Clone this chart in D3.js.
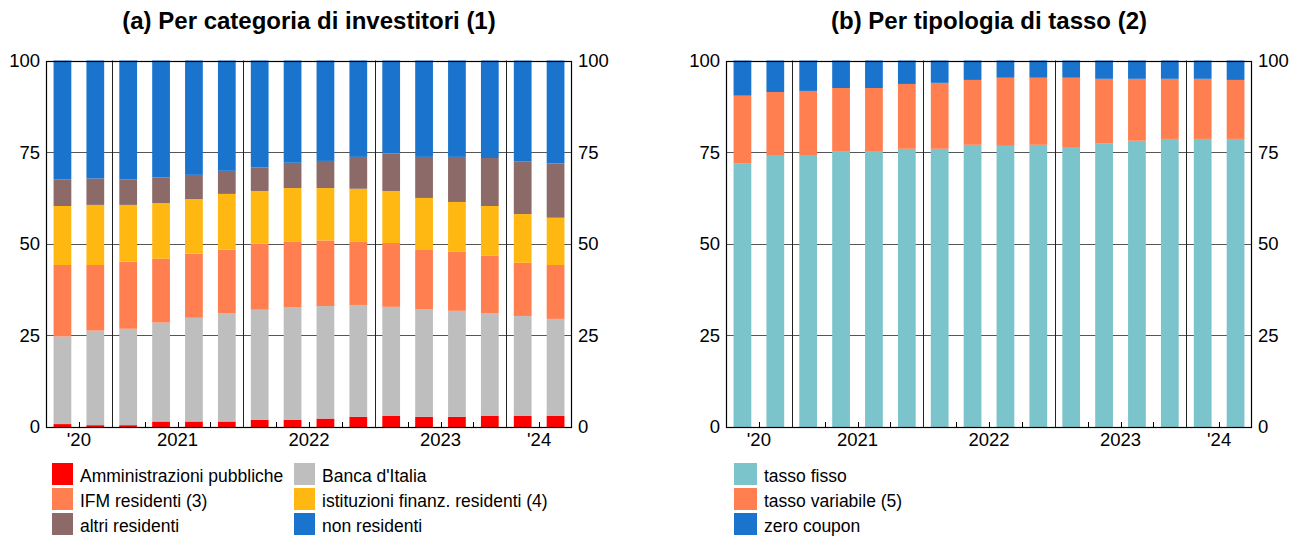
<!DOCTYPE html>
<html>
<head>
<meta charset="utf-8">
<script src="https://cdn.jsdelivr.net/npm/d3@7"></script>
<style>
  html, body { margin: 0; padding: 0; background: #fff; }
  svg { display: block; font-family: "Liberation Sans", Arial, Helvetica, sans-serif; }
</style>
</head>
<body>
<svg id="chart" width="1303" height="540"></svg>
<script>
// Quarters shown: 2020 Q3 .. 2024 Q2
const periods = ["2020T3","2020T4","2021T1","2021T2","2021T3","2021T4","2022T1","2022T2",
                 "2022T3","2022T4","2023T1","2023T2","2023T3","2023T4","2024T1","2024T2"];

// Year labels: text and the slot boundary they sit on
const yearLabels = ["'20","2021","2022","2023","'24"];
const yearLabelAt = [1, 4, 8, 12, 15];
// Slot boundaries where a new year starts
const yearBreaks = [2, 6, 10, 14];

const yTicks = [0, 25, 50, 75, 100];

// Panel (a): shares by holder category (per cent)
const amministrazioniPubbliche = [0.8,0.5,0.5,1.5,1.5,1.5,2.0,2.0,2.3,2.8,3.1,2.8,2.8,3.1,3.1,3.1];
const bancaItalia              = [23.9,25.8,26.3,27.0,28.3,29.6,30.0,30.6,30.7,30.5,29.7,29.4,28.9,28.0,27.2,26.4];
const ifmResidenti             = [19.5,17.9,18.3,17.4,17.5,17.3,18.0,17.9,17.9,17.2,17.4,16.1,16.1,15.6,14.5,14.7];
const istFinanzResidenti       = [16.1,16.4,15.5,15.2,14.9,15.2,14.4,14.7,14.3,14.5,14.2,14.2,13.6,13.6,13.3,12.9];
const altriResidenti           = [7.2,7.2,6.9,7.0,6.6,6.3,6.4,6.9,7.4,8.7,10.2,11.2,12.3,13.1,14.3,14.8];
const nonResidenti             = [32.5,32.2,32.5,31.9,31.2,30.1,29.2,27.9,27.4,26.3,25.4,26.3,26.3,26.6,27.6,28.1];

// Panel (b): shares by coupon type (per cent)
const tassoFisso     = [72.0,74.0,74.0,75.1,75.3,75.9,75.9,77.0,76.7,77.0,76.4,77.3,78.1,78.6,78.6,78.6];
const tassoVariabile = [18.4,17.4,17.7,17.4,17.2,17.7,18.0,17.7,18.6,18.3,18.9,17.7,16.9,16.4,16.4,16.1];
const zeroCoupon     = [9.6,8.6,8.3,7.5,7.5,6.4,6.1,5.3,4.7,4.7,4.7,5.0,5.0,5.0,5.0,5.3];

const seriesA = [
  { name: "Amministrazioni pubbliche",          values: amministrazioniPubbliche, color: "#ff0000" },
  { name: "Banca d'Italia",                     values: bancaItalia,              color: "#bebebe" },
  { name: "IFM residenti (3)",                  values: ifmResidenti,             color: "#ff7f50" },
  { name: "istituzioni finanz. residenti (4)",  values: istFinanzResidenti,       color: "#ffb812" },
  { name: "altri residenti",                    values: altriResidenti,           color: "#8c6a67" },
  { name: "non residenti",                      values: nonResidenti,             color: "#1a74ce" }
];
const seriesB = [
  { name: "tasso fisso",          values: tassoFisso,     color: "#7bc4cc" },
  { name: "tasso variabile (5)",  values: tassoVariabile, color: "#ff7f50" },
  { name: "zero coupon",          values: zeroCoupon,     color: "#1a74ce" }
];

const svg = d3.select("#chart");
const plotTop = 60.5, plotBottom = 427;

function drawPanel(cfg) {
  const { x0, x1, title, series } = cfg;
  const g = svg.append("g");

  const x = d3.scaleBand().domain(periods).range([x0, x1])
    .paddingInner(0.46).paddingOuter(0.23);
  const step = x.step();
  const slotEdge = i => x0 + i * step;   // boundary between slots
  const y = d3.scaleLinear().domain([0, 100]).range([plotBottom, plotTop]);

  // Title
  g.append("text")
    .attr("x", (x0 + x1) / 2).attr("y", 29)
    .attr("text-anchor", "middle")
    .attr("font-size", 24).attr("font-weight", "bold").attr("fill", "#000")
    .text(title);

  // Horizontal grid
  g.append("g").selectAll("line").data([25, 50, 75]).join("line")
    .attr("x1", x0).attr("x2", x1)
    .attr("y1", d => Math.round(y(d)) + 0.5).attr("y2", d => Math.round(y(d)) + 0.5)
    .attr("stroke", "#555").attr("stroke-width", 1);

  // Stacked bars
  const table = periods.map((p, i) => {
    const row = { period: p };
    series.forEach(s => row[s.name] = s.values[i]);
    return row;
  });
  const stack = d3.stack().keys(series.map(s => s.name))(table);
  g.append("g").selectAll("g").data(stack).join("g")
    .attr("fill", (d, i) => series[i].color)
    .selectAll("rect").data(d => d).join("rect")
    .attr("x", d => x(d.data.period))
    .attr("width", x.bandwidth())
    .attr("y", d => y(Math.min(d[1], 100)))
    .attr("height", d => y(d[0]) - y(Math.min(d[1], 100)));

  // Year separators
  g.append("g").selectAll("line").data(yearBreaks).join("line")
    .attr("x1", d => Math.round(slotEdge(d)) + 0.5).attr("x2", d => Math.round(slotEdge(d)) + 0.5)
    .attr("y1", plotTop).attr("y2", plotBottom)
    .attr("stroke", "#222").attr("stroke-width", 1);

  // Small ticks on the bottom axis at quarter boundaries
  const qTicks = d3.range(1, periods.length).filter(i => !yearBreaks.includes(i));
  g.append("g").selectAll("line").data(qTicks).join("line")
    .attr("x1", d => Math.round(slotEdge(d)) + 0.5).attr("x2", d => Math.round(slotEdge(d)) + 0.5)
    .attr("y1", plotBottom).attr("y2", plotBottom - 5)
    .attr("stroke", "#000").attr("stroke-width", 1);

  // Frame
  g.append("rect")
    .attr("x", x0 + 0.5).attr("y", Math.round(plotTop) + 0.5)
    .attr("width", x1 - x0 - 1).attr("height", plotBottom - Math.round(plotTop))
    .attr("fill", "none").attr("stroke", "#000").attr("stroke-width", 1.2);

  // Y axes on both sides
  const yAxisL = d3.axisLeft(y).tickValues(yTicks).tickSize(0).tickPadding(6);
  const yAxisR = d3.axisRight(y).tickValues(yTicks).tickSize(0).tickPadding(6);
  [[yAxisL, x0], [yAxisR, x1]].forEach(([ax, pos]) => {
    const a = g.append("g").attr("transform", `translate(${pos},0)`).call(ax);
    a.select(".domain").remove();
    a.selectAll("text").attr("font-size", 18.5).attr("fill", "#000")
      .attr("font-family", "Liberation Sans, Arial, sans-serif");
  });

  // Year labels
  g.append("g").selectAll("text").data(yearLabels).join("text")
    .attr("x", (d, i) => slotEdge(yearLabelAt[i]))
    .attr("y", 446)
    .attr("text-anchor", "middle")
    .attr("font-size", 18.5).attr("fill", "#000")
    .text(d => d);

  return g;
}

drawPanel({ x0: 46, x1: 572, title: "(a) Per categoria di investitori (1)", series: seriesA });
drawPanel({ x0: 726, x1: 1252, title: "(b) Per tipologia di tasso (2)", series: seriesB });

// Legends: one entry per series, placed in the given slots
function drawLegend(items, slots) {
  const g = svg.append("g");
  items.forEach((s, i) => {
    const c = slots[i];
    g.append("rect").attr("x", c.x).attr("y", c.y).attr("width", c.w).attr("height", 22)
      .attr("fill", s.color);
    g.append("text").attr("x", c.x + c.tx).attr("y", c.y + 18.5)
      .attr("font-size", 17.5).attr("fill", "#000").text(s.name);
  });
}
const rowY = [463, 488, 513];
// Two columns, filled row by row
drawLegend(seriesA, [
  { x: 52, y: rowY[0], w: 21, tx: 28 }, { x: 294, y: rowY[0], w: 21, tx: 28 },
  { x: 52, y: rowY[1], w: 21, tx: 28 }, { x: 294, y: rowY[1], w: 21, tx: 28 },
  { x: 52, y: rowY[2], w: 21, tx: 28 }, { x: 294, y: rowY[2], w: 21, tx: 28 }
]);
drawLegend(seriesB, [
  { x: 734, y: rowY[0], w: 23, tx: 30 },
  { x: 734, y: rowY[1], w: 23, tx: 30 },
  { x: 734, y: rowY[2], w: 23, tx: 30 }
]);
</script>
</body>
</html>
